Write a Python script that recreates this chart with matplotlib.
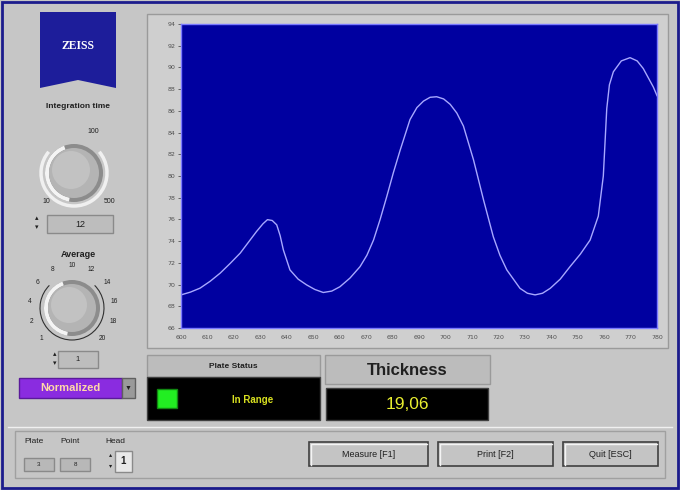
import matplotlib
matplotlib.use("Agg")

import numpy as np
import matplotlib.pyplot as plt
from matplotlib.patches import Rectangle, Circle, Wedge, Polygon, Arc

# spectrum (wavelength nm, signal)
wavelength = [600.0, 603.5, 607.2, 611.0, 614.8, 618.6, 622.4, 625.5, 628.6, 631.0, 632.7,
              634.5, 636.2, 637.5, 638.7, 641.2, 644.3, 647.5, 650.6, 653.8, 657.0, 660.1,
              663.9, 667.7, 670.3, 672.8, 675.3, 677.8, 680.3, 682.9, 686.6, 689.2, 691.7,
              694.2, 696.7, 699.3, 701.8, 704.3, 706.8, 710.6, 714.4, 718.1, 720.6, 723.2,
              728.2, 731.0, 733.9, 736.7, 739.6, 743.4, 747.1, 751.0, 754.7, 757.8, 759.7,
              761.0, 762.0, 763.5, 766.5, 769.8, 772.5, 774.8, 778.6, 780.0]
signal = [69.05, 69.3, 69.67, 70.3, 71.05, 71.95, 72.9, 73.9, 74.9, 75.6, 75.98,
          75.9, 75.5, 74.5, 73.2, 71.35, 70.5, 69.97, 69.55, 69.27, 69.4, 69.8,
          70.6, 71.65, 72.7, 74.1, 76.0, 78.1, 80.3, 82.4, 85.2, 86.3, 86.9,
          87.25, 87.3, 87.1, 86.6, 85.8, 84.6, 81.5, 77.8, 74.4, 72.7, 71.35,
          69.65, 69.2, 69.05, 69.2, 69.65, 70.5, 71.65, 72.8, 74.1, 76.3, 80.0,
          86.2, 88.4, 89.6, 90.6, 90.9, 90.6, 89.9, 88.2, 87.4]
xticks = list(range(600, 781, 10))
yticks = list(range(66, 95, 2))
avg_labels = ["1", "2", "4", "6", "8", "10", "12", "14", "16", "18", "20"]

bg = "#c6c6c6"
W, H = 680, 490

fig = plt.figure(figsize=(6.8, 4.9), dpi=100, facecolor=bg)
ui = fig.add_axes([0, 0, 1, 1], zorder=0)
ui.set_xlim(0, W)
ui.set_ylim(H, 0)
ui.axis("off")
FONT = ["Liberation Sans", "DejaVu Sans"]


def box(x0, y0, x1, y1, fc, ec="#808080", lw=1.0, z=1):
    ui.add_patch(Rectangle((x0, y0), x1 - x0, y1 - y0, facecolor=fc, edgecolor=ec, lw=lw, zorder=z))


def txt(x, y, s, size=6, color="#202020", weight="bold", ha="center", z=5, family=FONT):
    ui.text(x, y, s, fontsize=size, color=color, fontweight=weight, ha=ha, va="center",
            family=family, zorder=z)


# outer frame
box(2, 2, W - 2, H - 2, bg, ec="#1c1c8c", lw=2.0, z=0)

# graph panel
box(147, 14, 668, 348, "#cfcfcf", ec="#9a9a9a", lw=1.0)

# zeiss logo
ui.add_patch(Polygon([(40, 12), (116, 12), (116, 88), (78, 80), (40, 88)],
                     closed=True, facecolor="#1d1d9a", edgecolor="none", zorder=2))
txt(78, 46, "ZEISS", size=8.5, color="white", weight="bold", family=["Liberation Serif", "DejaVu Serif"])


def knob(cx, cy, r):
    ui.add_patch(Circle((cx, cy), r + 3, facecolor="#8c8c8c", edgecolor="none", zorder=2))
    ui.add_patch(Wedge((cx, cy), r + 3, 100, 250, width=4, facecolor="#f4f4f4", edgecolor="none", zorder=3))
    ui.add_patch(Circle((cx, cy), r - 1, facecolor="#b4b4b4", edgecolor="none", zorder=3))
    ui.add_patch(Circle((cx - 3, cy - 3), r - 7, facecolor="#c2c2c2", edgecolor="none", zorder=3))


# integration time
txt(78, 106, "Integration time", size=6)
ui.add_patch(Arc((74, 173), 66, 66, theta1=-40, theta2=220, color="#f0f0f0", lw=2.5, zorder=2))
knob(74, 173, 26)
txt(93, 131, "100", size=5, weight="normal")
txt(46, 201, "10", size=5, weight="normal")
txt(110, 201, "500", size=5, weight="normal")
box(47, 215, 113, 233, "#bdbdbd", ec="#8a8a8a")
txt(80, 224, "12", size=6.5, weight="normal")
txt(37, 219, "\u25b4", size=5, weight="normal")
txt(37, 228, "\u25be", size=5, weight="normal")

# average
txt(78, 254, "Average", size=6.5)
ui.add_patch(Arc((72, 308), 64, 64, theta1=-45, theta2=225, color="#303030", lw=0.8, zorder=2))
knob(72, 308, 25)
ang = np.linspace(225, -45, len(avg_labels))
for a, lab in zip(ang, avg_labels):
    rr = 43
    txt(72 + rr * np.cos(np.radians(a)), 308 - rr * np.sin(np.radians(a)), lab, size=4.8, weight="normal")
box(58, 351, 98, 368, "#bdbdbd", ec="#8a8a8a")
txt(78, 359.5, "1", size=5.5, weight="normal")
txt(55, 355, "\u25b4", size=5, weight="normal")
txt(55, 364, "\u25be", size=5, weight="normal")

# ring
box(19, 378, 122, 398, "#8a2ce0", ec="#5a1a9a")
txt(70, 388, "Normalized", size=8, color="#ffd8a8")
box(122, 378, 135, 398, "#9a9a9a", ec="#606060")
txt(128.5, 388, "\u25bc", size=5, color="#202020")

# plate status
box(147, 355, 320, 377, "#bcbcbc", ec="#9a9a9a")
txt(233, 366, "Plate Status", size=6)
box(147, 377, 320, 420, "black", ec="#404040")
box(157, 389, 177, 408, "#22ee22", ec="#118811")
txt(253, 400, "In Range", size=7, color="#d8e020")

# thickness
box(325, 355, 490, 384, "#bcbcbc", ec="#9a9a9a")
txt(407, 370, "Thickness", size=12)
box(326, 388, 488, 420, "black", ec="#404040")
txt(407, 404, "19,06", size=12.5, color="#e8ee30", weight="normal")

# bottom panel
ui.plot([8, 672], [427, 427], color="#f0f0f0", lw=1, zorder=1)
box(15, 431, 665, 478, bg, ec="#a0a0a0")
txt(34, 441, "Plate", size=6, weight="normal")
txt(70, 441, "Point", size=6, weight="normal")
txt(115, 441, "Head", size=6, weight="normal")
box(24, 458, 54, 471, "#b8b8b8", ec="#8a8a8a")
txt(39, 464.5, "3", size=4.5, weight="normal")
box(60, 458, 90, 471, "#b8b8b8", ec="#8a8a8a")
txt(75, 464.5, "8", size=4.5, weight="normal")
box(115, 451, 132, 472, "#e8e8e8", ec="#8a8a8a")
txt(120, 461, "1", size=7, weight="bold", ha="left")
txt(111, 455, "\u25b4", size=4.5, weight="normal")
txt(111, 466, "\u25be", size=4.5, weight="normal")
for x0, x1, lab in [(309, 428, "Measure [F1]"), (438, 553, "Print [F2]"), (563, 658, "Quit [ESC]")]:
    box(x0, 442, x1, 466, "#c4c4c4", ec="#404040", lw=1.2)
    ui.plot([x0 + 1.5, x0 + 1.5, x1 - 1.5], [465, 443.5, 443.5], color="#f4f4f4", lw=1, zorder=2)
    txt((x0 + x1) / 2, 454, lab, size=6.5, weight="normal")

# graph
ax = fig.add_axes([181 / W, (H - 328) / H, 476 / W, 304 / H], zorder=1)
ax.set_facecolor("#0000a0")
ax.plot(wavelength, signal, color="#a8a8ff", lw=1.0)
ax.set_xlim(600, 780)
ax.set_ylim(66, 94)
ax.set_xticks(xticks)
ax.set_yticks(yticks)
ax.tick_params(axis="both", labelsize=4.5, colors="#505050", length=2.5, width=0.6, pad=1.5)
ax.tick_params(axis="x", length=0, pad=5)
for s in ax.spines.values():
    s.set_color("#7a7aff")
    s.set_linewidth(1.0)

fig.savefig("out.png", dpi=100, facecolor=bg)
